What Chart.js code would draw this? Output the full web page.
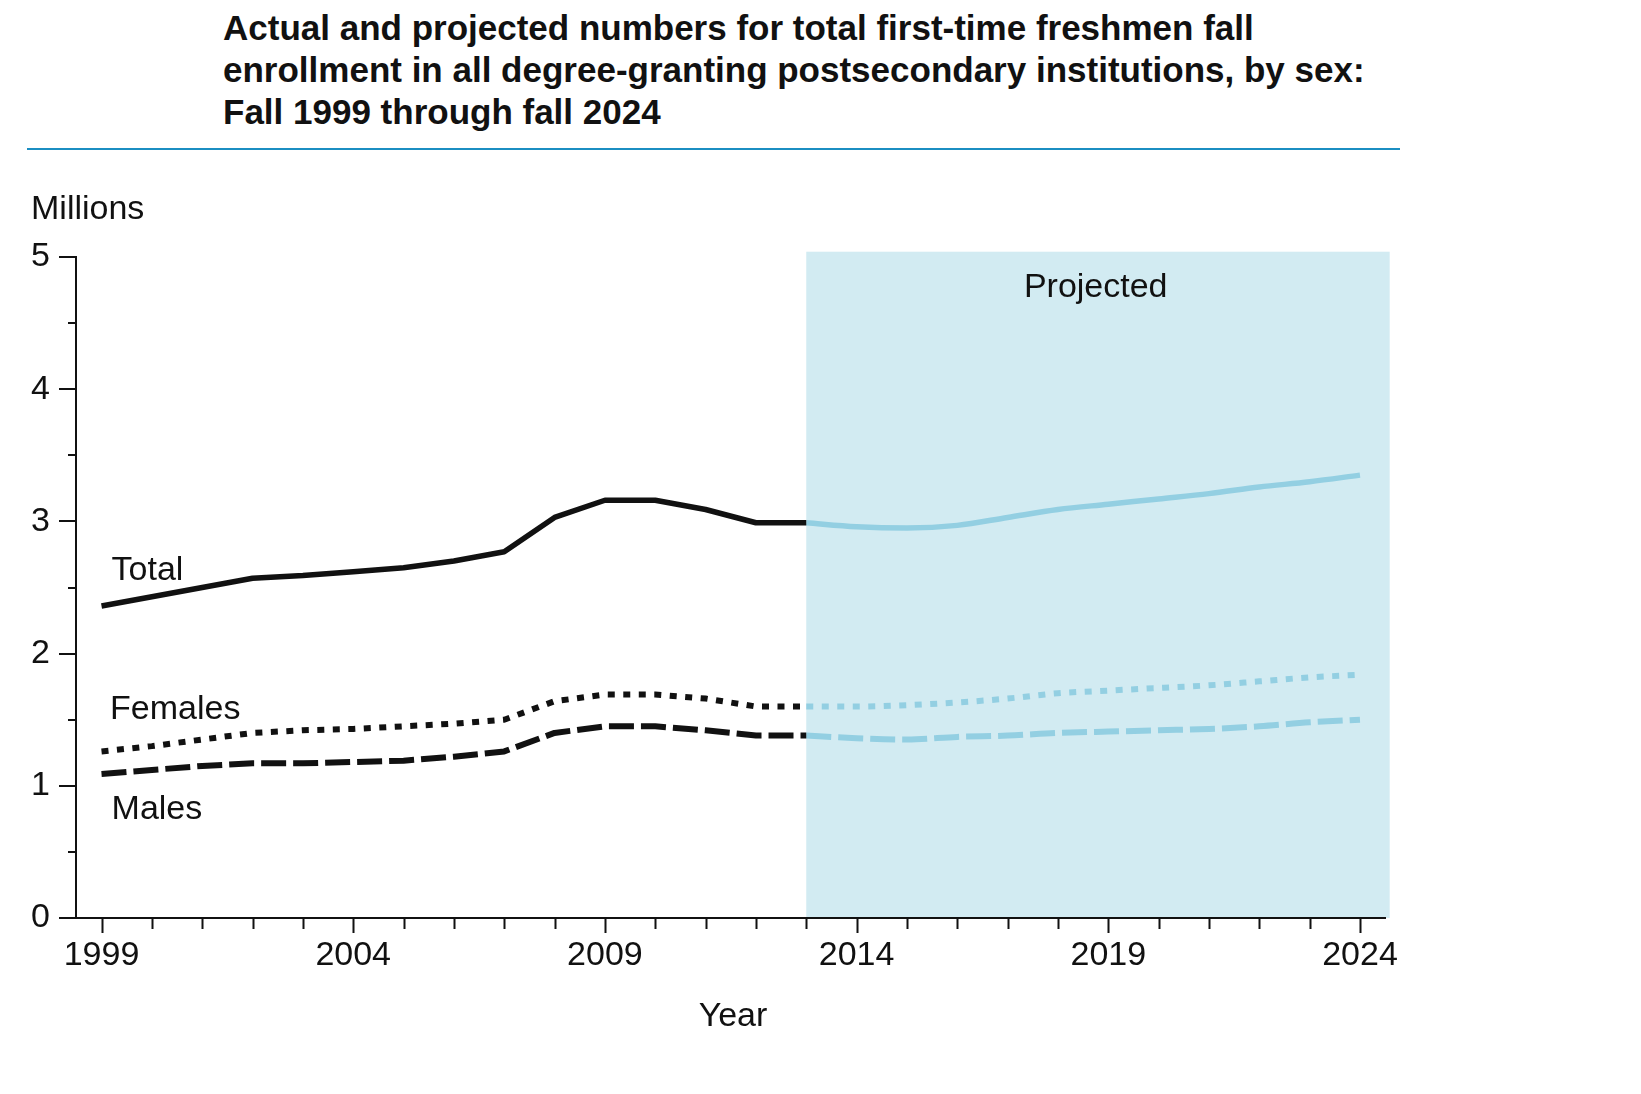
<!DOCTYPE html>
<html>
<head>
<meta charset="utf-8">
<script src="https://cdn.jsdelivr.net/npm/chart.js@4.4.1/dist/chart.umd.min.js"></script>
<style>
  html, body { margin: 0; padding: 0; background: #fff; }
  #wrap { position: relative; width: 1641px; height: 1094px; }
  #chart { position: absolute; left: 0; top: 0; }
  .title {
    position: absolute; left: 223px; top: 7px;
    font: bold 35px/42px "Liberation Sans", Arial, sans-serif;
    color: #111; white-space: nowrap;
  }
  .rule { position: absolute; left: 27px; top: 148px; width: 1373px; height: 2px; background: #1b8ec2; }
</style>
</head>
<body>
<div id="wrap">
  <div class="title">Actual and projected numbers for total first-time freshmen fall<br>enrollment in all degree-granting postsecondary institutions, by sex:<br>Fall 1999 through fall 2024</div>
  <div class="rule"></div>
  <canvas id="chart" width="1641" height="1094"></canvas>
</div>
<script>
// values in millions
const actualYears = [1999, 2000, 2001, 2002, 2003, 2004, 2005, 2006, 2007, 2008, 2009, 2010, 2011, 2012, 2013];
const totalActual = [2.36, 2.43, 2.50, 2.57, 2.59, 2.62, 2.65, 2.70, 2.77, 3.03, 3.16, 3.16, 3.09, 2.99, 2.99];
const femalesActual = [1.26, 1.30, 1.35, 1.40, 1.42, 1.43, 1.45, 1.47, 1.50, 1.64, 1.69, 1.69, 1.66, 1.60, 1.60];
const malesActual = [1.09, 1.12, 1.15, 1.17, 1.17, 1.18, 1.19, 1.22, 1.26, 1.40, 1.45, 1.45, 1.42, 1.38, 1.38];

const projectedYears = [2013, 2014, 2015, 2016, 2017, 2018, 2019, 2020, 2021, 2022, 2023, 2024];
const totalProjected = [2.99, 2.96, 2.95, 2.97, 3.03, 3.09, 3.13, 3.17, 3.21, 3.26, 3.30, 3.35];
const femalesProjected = [1.60, 1.60, 1.61, 1.63, 1.66, 1.70, 1.72, 1.74, 1.76, 1.79, 1.82, 1.84];
const malesProjected = [1.38, 1.36, 1.35, 1.37, 1.38, 1.40, 1.41, 1.42, 1.43, 1.45, 1.48, 1.50];

const labelYears = [1999, 2004, 2009, 2014, 2019, 2024];

const INK = '#111111';
const BLUE = '#93cfe2';
const SHADE = '#d2ebf2';
const FONT = '"Liberation Sans", Arial, sans-serif';

function points(years, values) {
  return years.map((year, i) => ({ x: year, y: values[i] }));
}

function series(years, values, color, dash, width, smooth) {
  return {
    data: points(years, values),
    borderColor: color,
    borderWidth: width,
    borderDash: dash,
    borderCapStyle: 'butt',
    borderJoinStyle: 'round',
    pointRadius: 0,
    fill: false,
    tension: smooth ? 0.4 : 0,
    cubicInterpolationMode: smooth ? 'monotone' : 'default'
  };
}

const DOTS = [7, 8.5];
const DASHES = [25, 7];

const decorations = {
  id: 'decorations',
  beforeDraw(chart) {
    const { ctx, scales: { x, y } } = chart;
    // shaded "Projected" band
    const left = x.getPixelForValue(projectedYears[0]);
    const right = x.getPixelForValue(2024.59);
    const top = y.getPixelForValue(5.04);
    const bottom = y.getPixelForValue(0);
    ctx.save();
    ctx.fillStyle = SHADE;
    ctx.fillRect(left, top, right - left, bottom - top);
    ctx.restore();
  },
  afterDraw(chart) {
    const { ctx, scales: { x, y } } = chart;
    ctx.save();
    ctx.strokeStyle = INK;
    ctx.lineWidth = 2;
    ctx.beginPath();
    x.ticks.forEach((t) => {
      const px = Math.round(x.getPixelForValue(t.value)) + 0.5;
      const len = labelYears.includes(t.value) ? 15 : 11;
      ctx.moveTo(px, y.bottom);
      ctx.lineTo(px, y.bottom + len);
    });
    y.ticks.forEach((t) => {
      const py = Math.round(y.getPixelForValue(t.value));
      const len = Number.isInteger(t.value) ? 17 : 8;
      ctx.moveTo(x.left - len, py);
      ctx.lineTo(x.left, py);
    });
    ctx.stroke();

    ctx.fillStyle = INK;
    ctx.font = `34px ${FONT}`;
    ctx.textBaseline = 'middle';
    ctx.textAlign = 'left';
    ctx.fillText('Total', x.getPixelForValue(1999.2), y.getPixelForValue(2.63));
    ctx.fillText('Females', x.getPixelForValue(1999.17), y.getPixelForValue(1.575));
    ctx.fillText('Males', x.getPixelForValue(1999.2), y.getPixelForValue(0.82));
    ctx.fillText('Millions', 31, 210);
    ctx.textAlign = 'center';
    ctx.fillText('Projected', x.getPixelForValue(2018.75), y.getPixelForValue(4.77));
    ctx.fillText('Year', 733, 1017);
    ctx.restore();
  }
};

new Chart(document.getElementById('chart'), {
  type: 'line',
  data: {
    datasets: [
      series(actualYears, totalActual, INK, [], 5.5, false),
      series(actualYears, femalesActual, INK, DOTS, 6, false),
      series(actualYears, malesActual, INK, DASHES, 6, false),
      series(projectedYears, totalProjected, BLUE, [], 5.5, true),
      series(projectedYears, femalesProjected, BLUE, DOTS, 6, true),
      series(projectedYears, malesProjected, BLUE, DASHES, 6, true)
    ]
  },
  options: {
    responsive: false,
    animation: false,
    layout: { padding: { top: 257, left: 0, right: 256, bottom: 116 } },
    plugins: { legend: { display: false }, tooltip: { enabled: false } },
    scales: {
      x: {
        type: 'linear',
        min: 1998.493,
        max: 2024.497,
        grid: { display: false },
        border: { display: true, color: INK, width: 2 },
        afterFit: (scale) => { scale.height = 60; },
        ticks: {
          stepSize: 1,
          includeBounds: false,
          autoSkip: false,
          maxRotation: 0,
          padding: 9,
          color: INK,
          font: { family: FONT, size: 34 },
          callback: (value) => (labelYears.includes(value) ? String(value) : '')
        }
      },
      y: {
        min: 0,
        max: 5,
        grid: { display: false },
        border: { display: true, color: INK, width: 2 },
        afterFit: (scale) => { scale.width = 76; },
        ticks: {
          stepSize: 0.5,
          padding: 18,
          color: INK,
          font: { family: FONT, size: 34 },
          callback: (value) => (Number.isInteger(value) ? String(value) : '')
        }
      }
    }
  },
  plugins: [decorations]
});
</script>
</body>
</html>
